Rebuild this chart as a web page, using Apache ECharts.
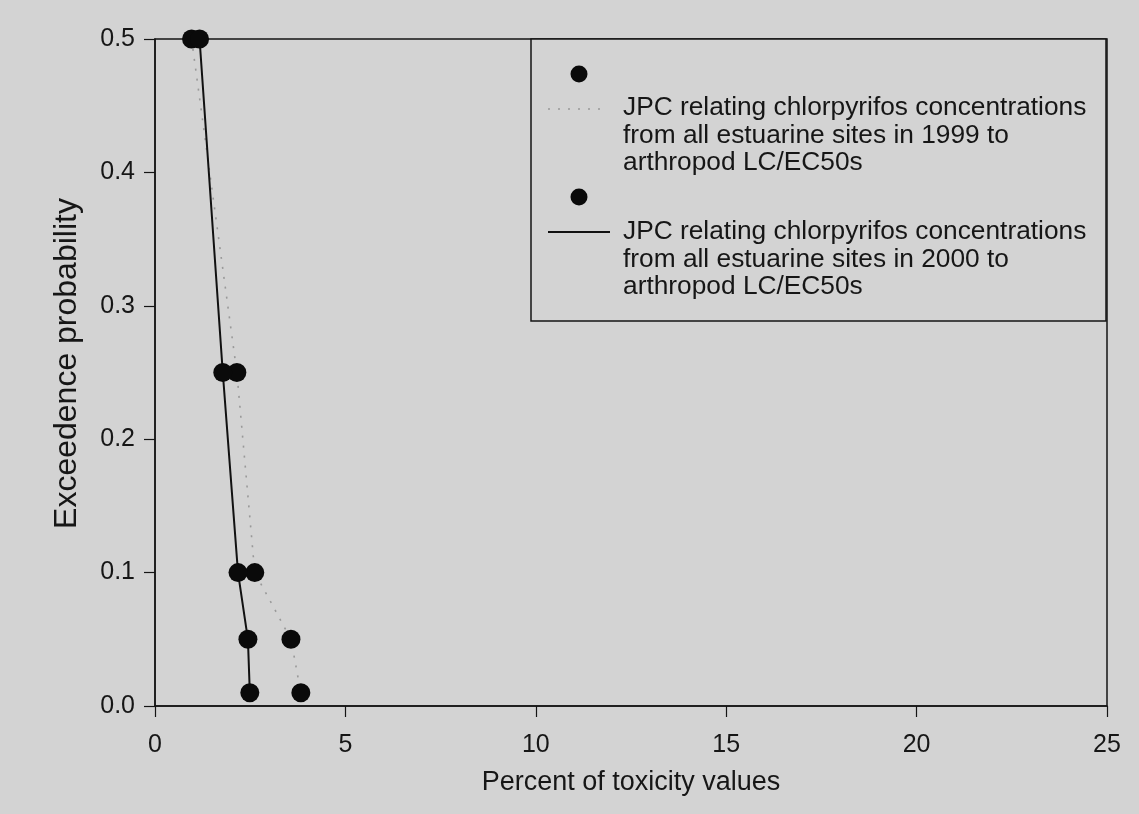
<!DOCTYPE html>
<html>
<head>
<meta charset="utf-8">
<script src="https://cdn.jsdelivr.net/npm/echarts@6/dist/echarts.min.js"></script>
<style>
html,body{margin:0;padding:0;background:#d3d3d3;}
#chart{width:1139px;height:814px;}
</style>
</head>
<body>
<div id="chart"></div>
<script>
// Data
const probabilities = [0.5, 0.25, 0.1, 0.05, 0.01];
const pct1999 = [0.96, 2.15, 2.62, 3.57, 3.83];
const pct2000 = [1.17, 1.78, 2.18, 2.44, 2.49];
const xTicks = [0, 5, 10, 15, 20, 25];
const yTicks = [0.0, 0.1, 0.2, 0.3, 0.4, 0.5];
const xTitle = 'Percent of toxicity values';
const yTitle = 'Exceedence probability';
const legend1999 = ['JPC relating chlorpyrifos concentrations', 'from all estuarine sites in 1999 to', 'arthropod LC/EC50s'];
const legend2000 = ['JPC relating chlorpyrifos concentrations', 'from all estuarine sites in 2000 to', 'arthropod LC/EC50s'];

const pairs = (xs, ys) => xs.map((x, i) => [x, ys[i]]);
const FONT = 'Liberation Sans, Arial, sans-serif';
const INK = '#151515';
const BG = '#d3d3d3';

const chart = echarts.init(document.getElementById('chart'), null, {renderer: 'canvas'});

const legendTextStyle = {fontFamily: FONT, fontSize: 26.3, fill: '#161616', lineHeight: 27.5};

chart.setOption({
  backgroundColor: BG,
  animation: false,
  grid: {left: 155, right: 32, top: 39, bottom: 108, show: true, borderColor: INK, borderWidth: 1.5, backgroundColor: 'transparent'},
  xAxis: {
    type: 'value', min: xTicks[0], max: xTicks[xTicks.length - 1], interval: 5,
    name: xTitle, nameLocation: 'middle', nameGap: 63,
    nameTextStyle: {fontFamily: FONT, fontSize: 27, color: '#161616'},
    axisLine: {show: true, onZero: false, lineStyle: {color: INK, width: 1.5}},
    axisTick: {show: true, inside: false, length: 11, lineStyle: {color: INK, width: 1.2}},
    axisLabel: {fontFamily: FONT, fontSize: 25, color: '#161616', margin: 27},
    splitLine: {show: false}
  },
  yAxis: {
    type: 'value', min: yTicks[0], max: yTicks[yTicks.length - 1], interval: 0.1,
    name: yTitle, nameLocation: 'middle', nameGap: 72, nameRotate: 90,
    nameTextStyle: {fontFamily: FONT, fontSize: 32, color: '#161616', padding: [0, 0, 0, 18]},
    axisLine: {show: true, onZero: false, lineStyle: {color: INK, width: 1.5}},
    axisTick: {show: true, inside: false, length: 11, lineStyle: {color: INK, width: 1.2}},
    axisLabel: {fontFamily: FONT, fontSize: 25, color: '#161616', margin: 20, formatter: v => v.toFixed(1)},
    splitLine: {show: false}
  },
  series: [
    {
      name: '1999 line', type: 'line', data: pairs(pct1999, probabilities), showSymbol: false, clip: false,
      lineStyle: {color: '#999', width: 1.6, type: [2, 8]}, z: 2
    },
    {
      name: '1999 points', type: 'scatter', data: pairs(pct1999, probabilities), clip: false,
      symbol: 'circle', symbolSize: 19, itemStyle: {color: '#0a0a0a', opacity: 1}, z: 3
    },
    {
      name: '2000 line', type: 'line', data: pairs(pct2000, probabilities), showSymbol: false, clip: false,
      lineStyle: {color: '#111', width: 2}, z: 2
    },
    {
      name: '2000 points', type: 'scatter', data: pairs(pct2000, probabilities), clip: false,
      symbol: 'circle', symbolSize: 19, itemStyle: {color: '#0a0a0a', opacity: 1}, z: 3
    }
  ],
  graphic: [
    {type: 'rect', shape: {x: 531, y: 39, width: 575, height: 282}, style: {fill: BG, stroke: INK, lineWidth: 1.5}, z: 10},
    {type: 'circle', shape: {cx: 579, cy: 74, r: 8.5}, style: {fill: '#0a0a0a'}, z: 11},
    {type: 'line', shape: {x1: 548, y1: 109, x2: 600, y2: 109}, style: {stroke: '#999', lineWidth: 1.6, lineDash: [2, 8]}, z: 11},
    {type: 'text', left: 623, top: 94, style: Object.assign({text: legend1999.join('\n')}, legendTextStyle), z: 11},
    {type: 'circle', shape: {cx: 579, cy: 197, r: 8.5}, style: {fill: '#0a0a0a'}, z: 11},
    {type: 'line', shape: {x1: 548, y1: 232, x2: 610, y2: 232}, style: {stroke: '#111', lineWidth: 2}, z: 11},
    {type: 'text', left: 623, top: 218, style: Object.assign({text: legend2000.join('\n')}, legendTextStyle), z: 11}
  ]
});
</script>
</body>
</html>
